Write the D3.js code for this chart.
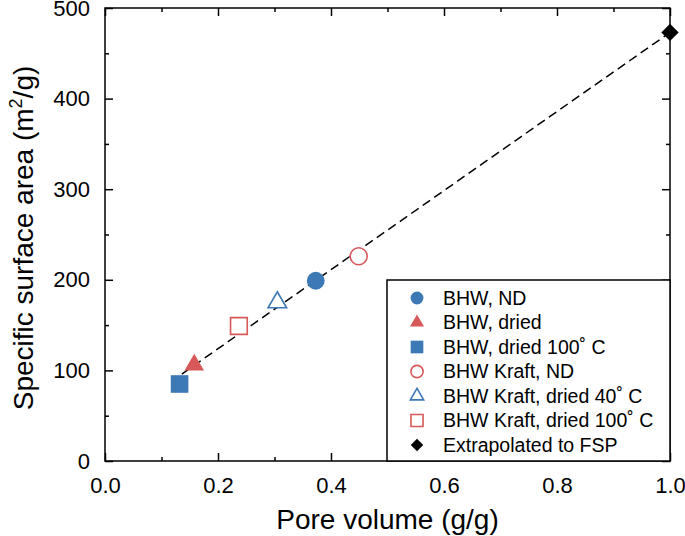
<!DOCTYPE html>
<html>
<head>
<meta charset="utf-8">
<script src="https://cdn.jsdelivr.net/npm/d3@7"></script>
<style>
  body { margin: 0; background: white; }
  text { font-family: "Liberation Sans", Arial, sans-serif; }
</style>
</head>
<body>
<div class="scatter"></div>
<script>
// Data
const labels = ["BHW, ND", "BHW, dried", "BHW, dried 100˚ C", "BHW Kraft, ND",
                "BHW Kraft, dried 40˚ C", "BHW Kraft, dried 100˚ C", "Extrapolated to FSP"];
const poreVolume = [0.373, 0.158, 0.132, 0.449, 0.305, 0.237, 1.0];
const surfaceArea = [199, 106, 85, 226, 175, 149, 473];
const fitX = [0.136, 1.0];
const fitY = [96, 473];
const xTicks = [0, 0.2, 0.4, 0.6, 0.8, 1.0];
const yTicks = [0, 100, 200, 300, 400, 500];

// Marker styles
const blue = "#3d79b5", red = "#d65858";
const shapes = ["circle", "triangle", "square", "circle", "triangle", "square", "diamond"];
const colors = [blue, red, blue, red, blue, red, "black"];
const filled = [true, true, true, false, false, false, true];

// Set Dimensions
const xSize = 685; const ySize = 536;
const pLeft = 105, pRight = 670, pTop = 8, pBottom = 461;

const svg = d3.select(".scatter")
    .append("svg")
    .attr("width", xSize)
    .attr("height", ySize);

const x = d3.scaleLinear().domain([0, 1]).range([pLeft, pRight]);
const y = d3.scaleLinear().domain([0, 500]).range([pBottom, pTop]);

// axes with inward ticks on all four sides
function addAxis(axis, transform, labelsOn) {
    const g = svg.append("g")
        .attr("transform", transform)
        .call(axis)
        .attr("color", "black");
    g.select(".domain").remove();
    g.selectAll("line").attr("stroke-width", 1.5);
    if (!labelsOn) g.selectAll("text").remove();
    return g;
}

const xMinor = d3.range(0.1, 1, 0.2);
const yMinor = d3.range(50, 500, 100);

// bottom
const gx = addAxis(d3.axisBottom(x).tickValues(xTicks).tickSize(-8).tickPadding(16)
    .tickFormat(d3.format(".1f")), "translate(0," + pBottom + ")", true);
gx.selectAll("text").attr("font-size", 22).attr("dy", "0.71em");
addAxis(d3.axisBottom(x).tickValues(xMinor).tickSize(-4), "translate(0," + pBottom + ")", false);
// top
addAxis(d3.axisTop(x).tickValues(xTicks).tickSize(-8), "translate(0," + pTop + ")", false);
addAxis(d3.axisTop(x).tickValues(xMinor).tickSize(-4), "translate(0," + pTop + ")", false);
// left
const gy = addAxis(d3.axisLeft(y).tickValues(yTicks).tickSize(-8).tickPadding(15),
    "translate(" + pLeft + ",0)", true);
gy.selectAll("text").attr("font-size", 22);
addAxis(d3.axisLeft(y).tickValues(yMinor).tickSize(-4), "translate(" + pLeft + ",0)", false);
// right
addAxis(d3.axisRight(y).tickValues(yTicks).tickSize(-8), "translate(" + pRight + ",0)", false);
addAxis(d3.axisRight(y).tickValues(yMinor).tickSize(-4), "translate(" + pRight + ",0)", false);

// frame
svg.append("rect")
    .attr("x", pLeft).attr("y", pTop)
    .attr("width", pRight - pLeft).attr("height", pBottom - pTop)
    .attr("fill", "none")
    .attr("stroke", "black")
    .attr("stroke-width", 1.5);

// dashed fit line
svg.append("path")
    .datum(d3.zip(fitX, fitY))
    .attr("fill", "none")
    .attr("stroke", "black")
    .attr("stroke-width", 1.5)
    .attr("stroke-dasharray", "9,5")
    .attr("d", d3.line()
        .x(function(d) { return x(d[0]); })
        .y(function(d) { return y(d[1]); }));

function symbolPath(shape, scale) {
    if (shape == "circle") return d3.symbol(d3.symbolCircle, 250 * scale * scale)();
    if (shape == "triangle") return d3.symbol(d3.symbolTriangle, 165 * scale * scale)();
    if (shape == "square") return d3.symbol(d3.symbolSquare, 310 * scale * scale)();
    return d3.symbol(d3.symbolSquare, 150 * scale * scale)();
}

function drawMarker(g, i, px, py, scale) {
    const open = !filled[i];
    g.append("path")
        .attr("d", symbolPath(shapes[i], scale * (open ? 0.95 : 1)))
        .attr("transform", "translate(" + px + "," + py + ")" + (shapes[i] == "diamond" ? " rotate(45)" : ""))
        .attr("fill", open ? "white" : colors[i])
        .attr("stroke", colors[i])
        .attr("stroke-width", open ? 1.6 : 0);
}

// points
const pts = svg.append("g");
poreVolume.forEach(function(d, i) {
    drawMarker(pts, i, x(d), y(surfaceArea[i]), 1);
});

// legend
const legend = svg.append("g");
legend.append("rect")
    .attr("x", 387).attr("y", 280)
    .attr("width", pRight - 387).attr("height", pBottom - 280)
    .attr("fill", "white")
    .attr("stroke", "black")
    .attr("stroke-width", 1.5);
labels.forEach(function(d, i) {
    const ly = 298 + i * 24.5;
    drawMarker(legend, i, 417, ly, 0.72);
    legend.append("text")
        .attr("x", 443).attr("y", ly)
        .attr("dy", "0.35em")
        .attr("font-size", 19.5)
        .text(d);
});

// axis titles
svg.append("text")
    .attr("x", (pLeft + pRight) / 2).attr("y", 529)
    .attr("text-anchor", "middle")
    .attr("font-size", 28)
    .text("Pore volume (g/g)");

const yt = svg.append("text")
    .attr("transform", "translate(33,238) rotate(-90)")
    .attr("text-anchor", "middle")
    .attr("font-size", 28);
yt.append("tspan").text("Specific surface area (m");
yt.append("tspan").attr("font-size", 18).attr("dy", -11).text("2");
yt.append("tspan").attr("dy", 11).text("/g)");
</script>
</body>
</html>
